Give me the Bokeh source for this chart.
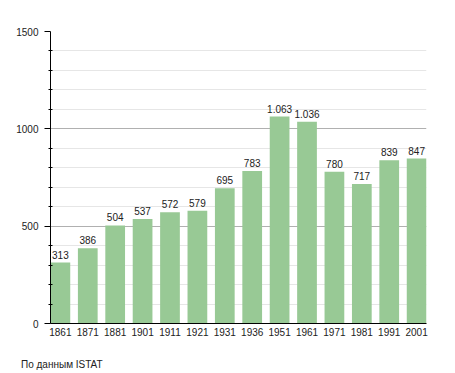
from bokeh.plotting import figure
from bokeh.layouts import column, row
from bokeh.models import ColumnDataSource, FactorRange, FixedTicker, Range1d
from bokeh.embed import file_html
from bokeh.resources import INLINE

years = ["1861", "1871", "1881", "1901", "1911", "1921", "1931", "1936",
         "1951", "1961", "1971", "1981", "1991", "2001"]
population = [313, 386, 504, 537, 572, 579, 695, 783, 1063, 1036, 780, 717, 839, 847]
value_labels = ["313", "386", "504", "537", "572", "579", "695", "783",
                "1.063", "1.036", "780", "717", "839", "847"]
y_major_ticks = [0, 500, 1000, 1500]
y_minor_ticks = [100, 200, 300, 400, 600, 700, 800, 900, 1100, 1200, 1300, 1400]
footer_text = "По данным  ISTAT"

FONT = "Liberation Sans"
TOP_H = 343          # 31 + 292 + 20
FOOT_H = 30

src = ColumnDataSource(dict(x=years, y=population, lab=value_labels))

w = 0.72
xr = FactorRange(factors=years, range_padding=-(0.5 - w / 2), range_padding_units="absolute")

p = figure(x_range=xr, y_range=(0, 1500), frame_width=376, frame_height=292,
           output_backend="svg", toolbar_location=None,
           min_border_left=50, min_border_right=25, min_border_top=31, min_border_bottom=20)
p.outline_line_color = None
p.background_fill_color = "white"

p.vbar(x="x", top="y", width=w, source=src, fill_color="#98c995", line_color=None)

p.text(x="x", y="y", text="lab", source=src, text_align="center", text_baseline="bottom",
       y_offset=-4, text_font_size="10px", text_font={"value": FONT}, text_color="#222222")

# y axis
p.yaxis.ticker = FixedTicker(ticks=y_major_ticks, minor_ticks=y_minor_ticks)
p.yaxis.axis_line_color = "black"
p.yaxis.major_tick_line_color = "black"
p.yaxis.major_tick_out = 6
p.yaxis.major_tick_in = 0
p.yaxis.minor_tick_line_color = "black"
p.yaxis.minor_tick_out = 2
p.yaxis.minor_tick_in = 2
p.yaxis.major_label_text_font = FONT
p.yaxis.major_label_text_font_size = "10px"
p.yaxis.major_label_text_color = "#222222"
p.yaxis.major_label_standoff = 6

p.ygrid.grid_line_color = "#b0b0b0"
p.ygrid.minor_grid_line_color = "#e6e6e6"
p.xgrid.grid_line_color = None

# x axis
p.xaxis.axis_line_color = "black"
p.xaxis.major_tick_line_color = None
p.xaxis.major_tick_out = 0
p.xaxis.major_tick_in = 0
p.xaxis.minor_tick_line_color = None
p.xaxis.major_label_text_font = FONT
p.xaxis.major_label_text_font_size = "10px"
p.xaxis.major_label_text_color = "#222222"
p.xaxis.major_label_standoff = 4

# footer strip
f = figure(width=451, height=FOOT_H, x_range=Range1d(0, 451), y_range=Range1d(FOOT_H, 0),
           x_axis_type=None, y_axis_type=None, output_backend="svg", toolbar_location=None,
           min_border=0)
if "frame_align" in f.properties():
    f.frame_align = False
    p.frame_align = False
f.outline_line_color = None
f.grid.visible = False
f.text(x=[20.5], y=[364 - TOP_H], text=[footer_text], text_baseline="alphabetic",
       text_font_size="10px", text_font={"value": FONT}, text_color="#222222")

layout = column(p, row(f), spacing=0)
open("out.html", "w").write(file_html(layout, INLINE))
